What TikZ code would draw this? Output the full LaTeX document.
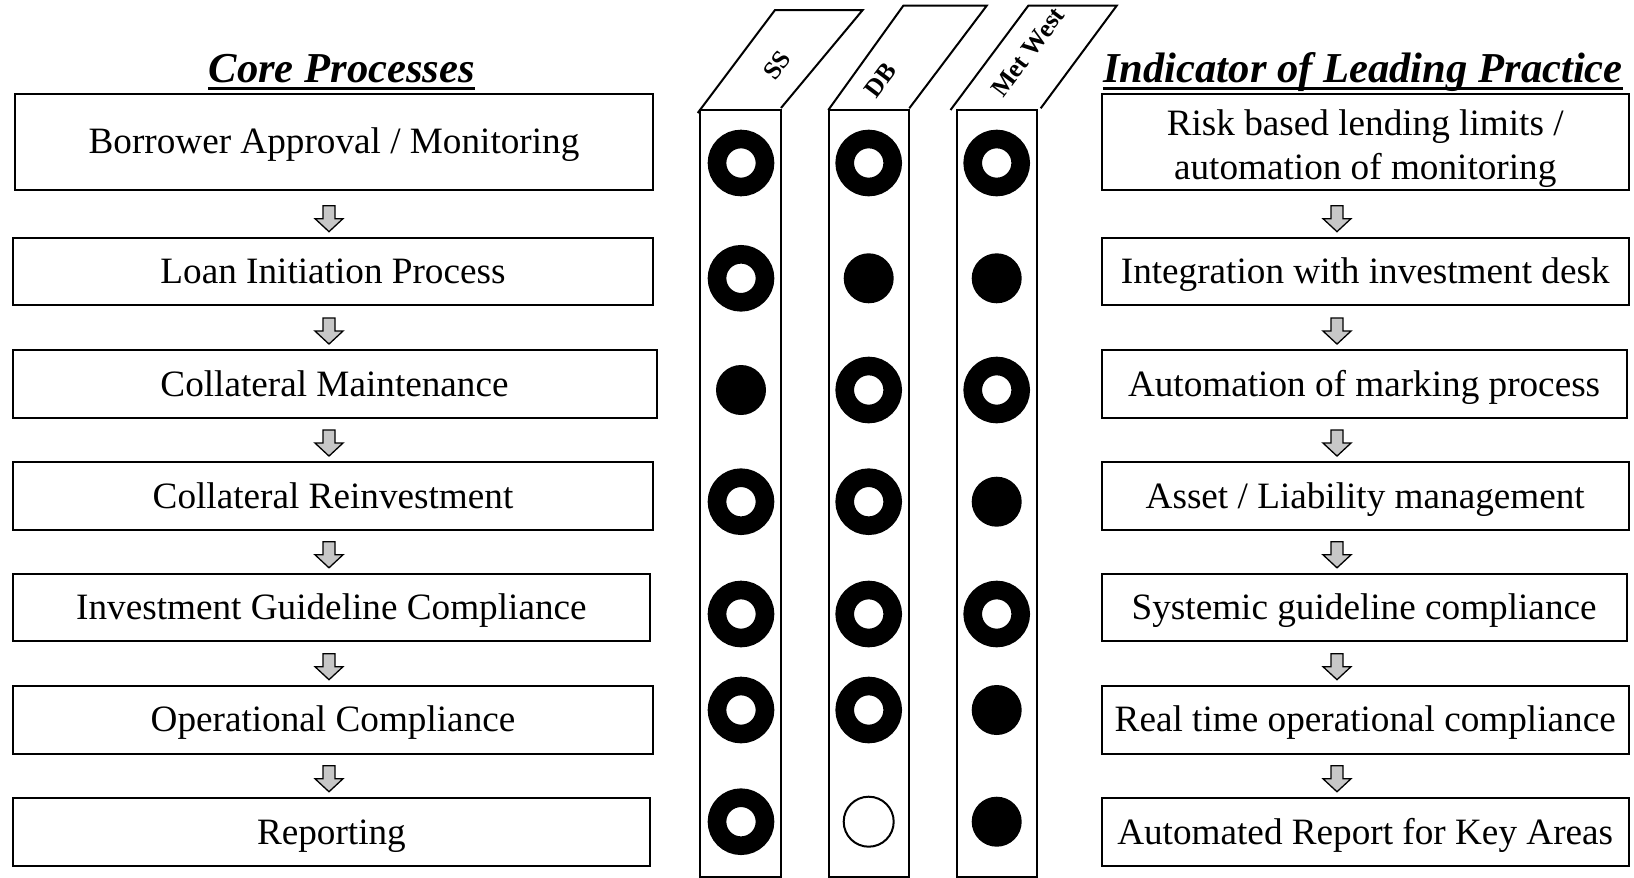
\documentclass[tikz,border=0pt]{standalone}
\usepackage{fontspec}
\setmainfont{Liberation Serif}
\usetikzlibrary{calc}
\begin{document}
\begin{tikzpicture}[x=0.5pt,y=-0.5pt,
  procbox/.style={draw, line width=1pt, inner sep=0pt, align=center,
    font=\fontsize{18.6pt}{22pt}\selectfont},
  oneline/.style={text height=14pt, text depth=1.8pt},
  headtext/.style={inner sep=0pt, anchor=base,
    font=\fontsize{21.3pt}{24pt}\selectfont\bfseries\itshape},
  titlerule/.style={line width=1.4pt},
  downarrow/.style={draw, line width=0.65pt, fill=black!22, line join=miter},
  colframe/.style={line width=1pt},
  collabel/.style={rotate=53, inner sep=0pt,
    font=\fontsize{12.8pt}{14pt}\selectfont\bfseries},
  ringmark/.style={circle, draw, line width=9.3pt, minimum size=24pt, inner sep=0pt},
  dotmark/.style={circle, fill, minimum size=25pt, inner sep=0pt},
  hollowmark/.style={circle, draw, line width=1pt, fill=white, minimum size=25pt, inner sep=0pt},
]
\useasboundingbox (0,0) rectangle (1634,878);

% block arrow pointing down onto node #2, on the vertical line through #1
\newcommand\flowarrow[2]{%
  \draw[downarrow] ($(#2.north -| #1)+(0,-5)$) -- ++(-14,-13) -- ++(8,0)
    -- ++(0,-13) -- ++(12,0) -- ++(0,13) -- ++(8,0) -- cycle;}

% ---------- headings ----------
\node[headtext] (coreT) at (341.8,82) {Core Processes};
\draw[titlerule] ($(coreT.base west)+(0,6.5)$) -- ($(coreT.base east)+(0,6.5)$);
\node[headtext] (leadT) at (1363,82) {Indicator of Leading Practice};
\draw[titlerule] ($(leadT.base west)+(0,6.5)$) -- ($(leadT.base east)+(0,6.5)$);

% ---------- core processes ----------
\node[procbox, oneline, minimum width=319.4pt, minimum height=47.95pt] (L1) at (334,141.75) {Borrower Approval / Monitoring};
\node[procbox, oneline, minimum width=320.45pt, minimum height=33.85pt] (L2) at (333,271.5) {Loan Initiation Process};
\node[procbox, oneline, minimum width=322pt, minimum height=33.85pt] (L3) at (334.5,383.9) {Collateral Maintenance};
\node[procbox, oneline, minimum width=320.45pt, minimum height=33.85pt] (L4) at (333,495.9) {Collateral Reinvestment};
\node[procbox, oneline, minimum width=318.9pt, minimum height=33.6pt] (L5) at (331.4,607.4) {Investment Guideline Compliance};
\node[procbox, oneline, minimum width=320.45pt, minimum height=34pt] (L6) at (333,719.7) {Operational Compliance};
\node[procbox, oneline, minimum width=318.9pt, minimum height=34.25pt] (L7) at (331.4,832) {Reporting};

% ---------- leading practice ----------
\node[procbox, minimum width=263.65pt, minimum height=47.95pt] (R1) at (1365.2,141.75)
  {\rule{0pt}{19.7pt}Risk based lending limits /\\automation of monitoring\rule[-4.2pt]{0pt}{4.2pt}};
\node[procbox, oneline, minimum width=263.65pt, minimum height=33.85pt] (R2) at (1365.2,271.5) {Integration with investment desk};
\node[procbox, oneline, minimum width=262.6pt, minimum height=33.85pt] (R3) at (1364.1,383.9) {Automation of marking process};
\node[procbox, oneline, minimum width=263.65pt, minimum height=33.85pt] (R4) at (1365.2,495.9) {Asset / Liability management};
\node[procbox, oneline, minimum width=262.6pt, minimum height=33.6pt] (R5) at (1364.1,607.4) {Systemic guideline compliance};
\node[procbox, oneline, minimum width=263.65pt, minimum height=34pt] (R6) at (1365.2,719.7) {Real time operational compliance};
\node[procbox, oneline, minimum width=263.65pt, minimum height=34.25pt] (R7) at (1365.2,832) {Automated Report for Key Areas};

% ---------- flow arrows ----------
\coordinate (ax) at (329,0);
\coordinate (bx) at (1337,0);
\foreach \n in {2,...,7}{\flowarrow{ax}{L\n}\flowarrow{bx}{R\n}}

% ---------- rating columns ----------
\draw[colframe] (700,110) rectangle (780.7,877);
\draw[colframe] (697.7,113) -- (775,10) -- (862.7,10) -- (781,108);
\draw[colframe] (829,110) rectangle (909,877);
\draw[colframe] (828.3,110) -- (903.3,5.7) -- (986.7,5.7) -- (909.3,108.3);
\draw[colframe] (956.7,110) rectangle (1037,877);
\draw[colframe] (950.5,110) -- (1028.3,5.7) -- (1116.7,5.7) -- (1040.7,108.3);

\node[collabel] (hSS) at (777,65) {SS};
\node[collabel] (hDB) at (880.5,80) {DB};
\node[collabel] (hMW) at (1028,52) {Met West};

% ---------- ratings ----------
\node[ringmark] (c11) at (741,163) {};
\node[ringmark] (c12) at (868.7,163) {};
\node[ringmark] (c13) at (996.7,163) {};

\node[ringmark] (c21) at (741,278.3) {};
\node[dotmark]  (c22) at (868.7,278.3) {};
\node[dotmark]  (c23) at (996.7,278.3) {};

\node[dotmark]  (c31) at (741,390) {};
\node[ringmark] (c32) at (868.7,390) {};
\node[ringmark] (c33) at (996.7,390) {};

\node[ringmark] (c41) at (741,501.7) {};
\node[ringmark] (c42) at (868.7,501.7) {};
\node[dotmark]  (c43) at (996.7,501.7) {};

\node[ringmark] (c51) at (741,614) {};
\node[ringmark] (c52) at (868.7,614) {};
\node[ringmark] (c53) at (996.7,614) {};

\node[ringmark] (c61) at (741,710) {};
\node[ringmark] (c62) at (868.7,710) {};
\node[dotmark]  (c63) at (996.7,710) {};

\node[ringmark]   (c71) at (741,821.7) {};
\node[hollowmark] (c72) at (868.7,821.7) {};
\node[dotmark]    (c73) at (996.7,821.7) {};
\end{tikzpicture}
\end{document}
